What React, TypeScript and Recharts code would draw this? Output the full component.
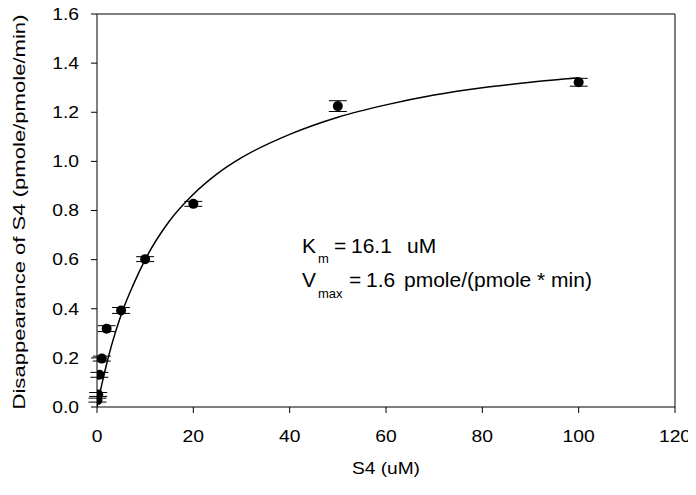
import React from 'react';
import { ComposedChart, Scatter, Line, XAxis, YAxis, ErrorBar, ReferenceLine } from 'recharts';

// measured points, S4 concentration (uM) vs rate
const concentrations = [0.1, 0.25, 0.5, 1, 2, 5, 10, 20, 50, 100];
const rates = [0.028, 0.051, 0.131, 0.197, 0.319, 0.393, 0.602, 0.827, 1.225, 1.322];
const rateErrors = [0.008, 0.008, 0.01, 0.01, 0.012, 0.012, 0.01, 0.01, 0.022, 0.016];

// fitted curve
const fitX = [0, 0.5, 1, 2, 3, 5, 7.5, 10, 15, 20, 25, 30, 40, 50, 60, 70, 80, 90, 100];
const fitY = [0, 0.047, 0.092, 0.175, 0.25, 0.375, 0.496, 0.6, 0.756, 0.866, 0.95, 1.015, 1.11, 1.18, 1.23, 1.27, 1.3, 1.322, 1.34];

const xTicks = [0, 20, 40, 60, 80, 100, 120];
const yTicks = [0, 0.2, 0.4, 0.6, 0.8, 1.0, 1.2, 1.4, 1.6];

const points = concentrations.map((x, i) => ({ x, y: rates[i], err: rateErrors[i] }));
const fit = fitX.map((x, i) => ({ x, y: fitY[i] }));

const font = 'Liberation Sans, Arial, sans-serif';

// tick labels in the original are drawn a bit wide
const XTick = (props: any) => {
  const { x, y, payload } = props;
  return (
    <g transform={`translate(${x},${y})`}>
      <text transform="scale(1.17,1)" textAnchor="middle" dy="0.71em" fontSize={16.5} fontFamily={font} fill="#000">
        {payload.value}
      </text>
    </g>
  );
};

const YTick = (props: any) => {
  const { x, y, payload } = props;
  return (
    <g transform={`translate(${x},${y})`}>
      <text transform="scale(1.17,1)" textAnchor="end" dy="0.355em" fontSize={16.5} fontFamily={font} fill="#000">
        {Number(payload.value).toFixed(1)}
      </text>
    </g>
  );
};

const App = () => {
  return (
    <div style={{ position: 'relative', width: 696, height: 495, margin: -8, background: '#fff' }}>
      <ComposedChart width={696} height={495} margin={{ top: 14, right: 21, bottom: 0, left: 0 }}>
        <XAxis
          type="number"
          dataKey="x"
          domain={[0, 120]}
          ticks={xTicks}
          tick={<XTick />}
          tickSize={6}
          tickMargin={17}
          height={88}
          stroke="#000"
          allowDataOverflow
        />
        <YAxis
          type="number"
          dataKey="y"
          domain={[0, 1.6]}
          ticks={yTicks}
          tick={<YTick />}
          tickSize={6}
          tickMargin={12}
          width={97}
          stroke="#000"
          allowDataOverflow
        />
        <ReferenceLine y={1.6} stroke="#000" />
        <ReferenceLine x={120} stroke="#000" />
        <Line
          data={fit}
          dataKey="y"
          type="monotone"
          stroke="#000"
          strokeWidth={1.5}
          dot={false}
          activeDot={false}
          isAnimationActive={false}
        />
        <Scatter data={points} fill="#000" isAnimationActive={false} shape={(p: any) => <circle cx={p.cx} cy={p.cy} r={5} fill="#000" />}>
          <ErrorBar dataKey="err" direction="y" width={9} stroke="#000" strokeWidth={1} />
        </Scatter>
      </ComposedChart>
      <svg width={696} height={495} style={{ position: 'absolute', left: 0, top: 0, pointerEvents: 'none' }}>
        <g fontFamily={font} fill="#000">
          <text x={386} y={474} fontSize={17} textAnchor="middle" textLength={68} lengthAdjust="spacingAndGlyphs">
            S4 (uM)
          </text>
          <text
            x={0}
            y={0}
            fontSize={17}
            textAnchor="middle"
            textLength={395}
            lengthAdjust="spacingAndGlyphs"
            transform="translate(25,212) rotate(-90)"
          >
            Disappearance of S4 (pmole/pmole/min)
          </text>
          <text x={302} y={253} fontSize={21}>K</text>
          <text x={318} y={263} fontSize={13}>m</text>
          <text x={334} y={253} fontSize={21}>=</text>
          <text x={351} y={253} fontSize={21}>16.1</text>
          <text x={407} y={253} fontSize={21}>uM</text>
          <text x={302} y={287} fontSize={21}>V</text>
          <text x={318} y={298} fontSize={13}>max</text>
          <text x={349} y={287} fontSize={21}>=</text>
          <text x={366} y={287} fontSize={21}>1.6</text>
          <text x={404} y={287} fontSize={21}>pmole/(pmole * min)</text>
        </g>
      </svg>
    </div>
  );
};

export default App;
